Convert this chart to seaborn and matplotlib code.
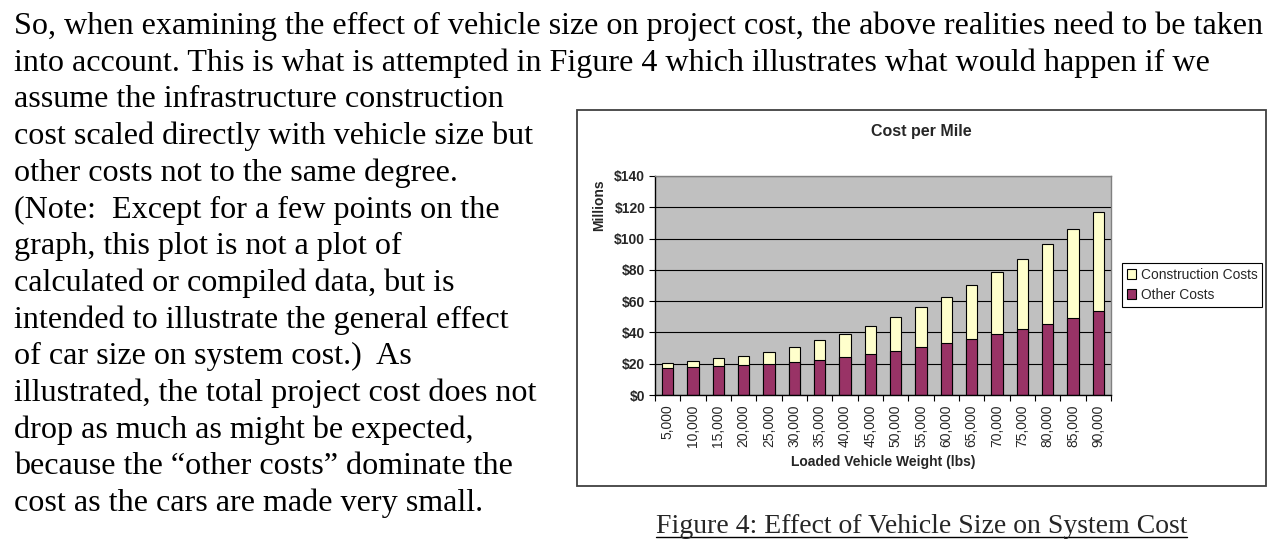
import matplotlib
matplotlib.use('Agg')
import matplotlib.pyplot as plt
from matplotlib.patches import Rectangle, Patch
from matplotlib.lines import Line2D
import seaborn as sns
import pandas as pd

# ======= data (millions of $ per mile) =======
weights = ['5,000', '10,000', '15,000', '20,000', '25,000', '30,000', '35,000', '40,000', '45,000',
           '50,000', '55,000', '60,000', '65,000', '70,000', '75,000', '80,000', '85,000', '90,000']
other_costs = [17.3, 17.9, 18.5, 19.2, 19.8, 21.3, 22.6, 24.1, 26.0,
               27.9, 30.9, 33.0, 35.6, 39.0, 42.0, 45.2, 49.4, 53.5]
construction_costs = [3.4, 4.0, 4.9, 5.5, 7.7, 9.6, 12.6, 14.9, 17.9,
                      22.2, 25.4, 29.9, 34.9, 39.6, 44.9, 51.3, 56.7, 63.5]
y_ticks = [0, 20, 40, 60, 80, 100, 120, 140]

body_lines = [
    "So, when examining the effect of vehicle size on project cost, the above realities need to be taken",
    "into account. This is what is attempted in Figure 4 which illustrates what would happen if we",
    "assume the infrastructure construction",
    "cost scaled directly with vehicle size but",
    "other costs not to the same degree.",
    "(Note:  Except for a few points on the",
    "graph, this plot is not a plot of",
    "calculated or compiled data, but is",
    "intended to illustrate the general effect",
    "of car size on system cost.)  As",
    "illustrated, the total project cost does not",
    "drop as much as might be expected,",
    "because the \u201cother costs\u201d dominate the",
    "cost as the cars are made very small.",
]
caption = "Figure 4: Effect of Vehicle Size on System Cost"

df = pd.DataFrame({'weight': weights, 'other': other_costs, 'construction': construction_costs})
df['total'] = df['other'] + df['construction']

# ======= style =======
sns.set_theme(style="white")
plt.rcParams['font.family'] = ['Liberation Sans', 'DejaVu Sans']

W, H = 1287, 557
fig = plt.figure(figsize=(W / 100, H / 100), dpi=100)
fig.patch.set_facecolor('white')

def fx(x):
    return x / W

def fy(y):
    return 1 - y / H

serif = ['Liberation Serif', 'DejaVu Serif']

# --- body text ---
for i, line in enumerate(body_lines):
    fig.text(fx(14), fy(34 + i * 36.7), line, family=serif, fontsize=23.1, color='black', va='baseline')

# --- chart frame ---
fig.patches.append(Rectangle((fx(577), fy(486)), (1266 - 577) / W, (486 - 110) / H,
                             transform=fig.transFigure, fill=False, edgecolor='#404040', linewidth=1.3))

# --- bars ---
ax = fig.add_axes([fx(655), fy(395), (1111 - 655) / W, (395 - 176) / H])
ax.set_facecolor('#C0C0C0')
sns.barplot(data=df, x='weight', y='total', color='#FFFFCC', saturation=1, edgecolor='black',
            linewidth=0.8, width=0.44, errorbar=None, ax=ax)
sns.barplot(data=df, x='weight', y='other', color='#993366', saturation=1, edgecolor='black',
            linewidth=0.8, width=0.44, errorbar=None, ax=ax)

ax.set_xlim(-0.5, len(weights) - 0.5)
ax.set_ylim(0, 140)
ax.set_yticks(y_ticks)
ax.set_yticklabels([f'${v}' for v in y_ticks], fontsize=10, fontweight='bold')
ax.set_axisbelow(True)
ax.yaxis.grid(True, color='black', linewidth=0.8)
ax.xaxis.grid(False)

ax.set_xticks([i - 0.5 for i in range(len(weights) + 1)], minor=True)
ax.tick_params(axis='x', which='major', length=0, pad=7, labelsize=10, rotation=90)
ax.tick_params(axis='x', which='minor', length=4, width=0.8, color='black', direction='out', bottom=True)
ax.tick_params(axis='y', which='major', length=4, width=0.8, color='black', direction='out', left=True, pad=3)

for side in ['left', 'bottom']:
    ax.spines[side].set_color('black')
    ax.spines[side].set_linewidth(1.0)
for side in ['top', 'right']:
    ax.spines[side].set_color('#808080')
    ax.spines[side].set_linewidth(1.0)

ax.set_xlabel('')
ax.set_ylabel('')
fig.text(fx(599), fy(205), 'Millions', rotation=90, fontsize=10, fontweight='bold', ha='center', va='center')
fig.text(fx(883), fy(462), 'Loaded Vehicle Weight (lbs)', fontsize=10, fontweight='bold', ha='center', va='center')
fig.text(fx(921), fy(132), 'Cost per Mile', fontsize=11.5, fontweight='bold', ha='center', va='center')

# --- legend ---
handles = [Patch(facecolor='#FFFFCC', edgecolor='black', linewidth=0.8, label='Construction Costs'),
           Patch(facecolor='#993366', edgecolor='black', linewidth=0.8, label='Other Costs')]
leg = fig.legend(handles=handles, loc='upper left', bbox_to_anchor=(fx(1122), fy(263)),
                 fontsize=9.9, frameon=True, fancybox=False, edgecolor='black', framealpha=1,
                 handlelength=0.7, handleheight=0.7, handletextpad=0.3, borderpad=0.35,
                 labelspacing=0.45, borderaxespad=0)
leg.get_frame().set_linewidth(0.8)

# --- caption with underline ---
cap = fig.text(fx(921.5), fy(533), caption, family=serif, fontsize=20, ha='center', va='baseline')
fig.canvas.draw()
bb = cap.get_window_extent(renderer=fig.canvas.get_renderer())
uy = fy(537)
fig.lines.append(Line2D([bb.x0 / W, bb.x1 / W], [uy, uy], transform=fig.transFigure,
                        color='black', linewidth=1.0))

fig.savefig('out.png', dpi=100)
plt.close(fig)
